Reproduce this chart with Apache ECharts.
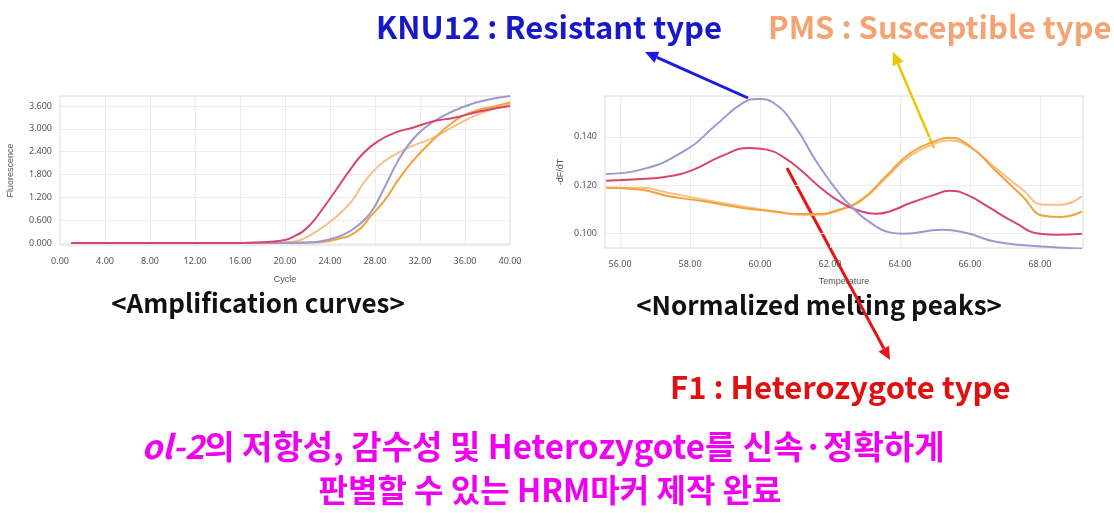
<!DOCTYPE html>
<html>
<head>
<meta charset="utf-8">
<script src="https://cdn.jsdelivr.net/npm/echarts@6/dist/echarts.min.js"></script>
<style>
  html, body { margin: 0; padding: 0; background: #fff; }
  #chart { width: 1114px; height: 513px; }
</style>
</head>
<body>
<div id="chart"></div>
<script>
// amplification curves: [cycle, fluorescence]
const ampRed = [[1, 0], [16, 0], [17.8, 0.02], [19.6, 0.06], [20.85, 0.18], [22.1, 0.44], [23.3, 0.88], [24.55, 1.40], [25.8, 1.93], [27.0, 2.37], [28.3, 2.68], [29.8, 2.90], [31.35, 3.03], [33.2, 3.20], [35.05, 3.29], [37.5, 3.47], [40, 3.60]];
const ampLightOrange = [[1, 0], [17, 0], [19, 0.01], [20.85, 0.04], [22.1, 0.18], [23.9, 0.53], [25.8, 1.05], [27.0, 1.58], [28.3, 2.02], [29.8, 2.33], [31.35, 2.55], [33.2, 2.77], [35.05, 3.07], [37.5, 3.42], [40, 3.64]];
const ampPurple = [[1, 0], [20, 0], [22.1, 0.01], [23.9, 0.09], [25.2, 0.22], [26.4, 0.44], [27.6, 0.79], [28.9, 1.49], [30.1, 2.19], [31.35, 2.72], [32.6, 3.07], [34.1, 3.34], [35.7, 3.56], [37.5, 3.73], [40, 3.86]];
const ampOrange = [[1, 0], [20, 0], [22.1, 0.01], [24.6, 0.10], [26.4, 0.31], [27.6, 0.70], [28.9, 1.14], [30.1, 1.67], [31.35, 2.15], [33.2, 2.72], [35.05, 3.20], [36.9, 3.47], [38.8, 3.60], [40, 3.69]];
const ampYTicks = [0, 0.6, 1.2, 1.8, 2.4, 3.0, 3.6];
const ampXTicks = [0, 4, 8, 12, 16, 20, 24, 28, 32, 36, 40];

// melting peaks: [temperature, -dF/dT]
const meltPurple = [[55.6, 0.1246], [56.6, 0.1264], [57.9, 0.1347], [58.7, 0.1444], [59.5, 0.1540], [59.95, 0.1558], [60.4, 0.1540], [61.0, 0.1444], [61.6, 0.1300], [62.25, 0.1167], [62.7, 0.1097], [63.1, 0.1049], [63.7, 0.1003], [64.1, 0.0997], [65.2, 0.1014], [65.9, 0.1000], [66.7, 0.0965], [67.6, 0.0949], [68.3, 0.0942], [69.2, 0.0935]];
const meltRed = [[55.6, 0.1218], [56.6, 0.1225], [57.4, 0.1236], [58.1, 0.1264], [58.9, 0.1320], [59.7, 0.1354], [60.2, 0.1347], [60.7, 0.1313], [61.2, 0.1257], [61.8, 0.1180], [62.35, 0.1125], [62.9, 0.1090], [63.3, 0.1080], [63.7, 0.1090], [64.3, 0.1125], [65.0, 0.1160], [65.4, 0.1176], [65.9, 0.1160], [66.5, 0.1111], [67.3, 0.1042], [68.0, 0.0997], [68.5, 0.0993], [69.2, 0.0997]];
const meltOrange = [[55.6, 0.1188], [56.6, 0.1180], [57.4, 0.1153], [58.4, 0.1132], [59.5, 0.1104], [60.4, 0.1090], [61.2, 0.1079], [61.6, 0.1079], [62.25, 0.1097], [62.9, 0.1139], [63.6, 0.1236], [64.3, 0.1333], [65.0, 0.1382], [65.4, 0.1396], [66.0, 0.1361], [66.7, 0.1264], [67.5, 0.1153], [68.1, 0.1072], [68.6, 0.1067], [69.2, 0.1090]];
const meltLightOrange = [[55.6, 0.1188], [56.6, 0.1188], [57.4, 0.1167], [58.4, 0.1139], [59.5, 0.1111], [60.4, 0.1090], [61.2, 0.1076], [61.6, 0.1076], [62.25, 0.1094], [62.9, 0.1136], [63.6, 0.1229], [64.3, 0.1322], [65.0, 0.1372], [65.4, 0.1385], [66.0, 0.1357], [66.7, 0.1275], [67.5, 0.1181], [68.1, 0.1118], [68.6, 0.1118], [69.2, 0.1153]];
const meltYTicks = [0.100, 0.120, 0.140];
const meltXTicks = [56, 58, 60, 62, 64, 66, 68];

const PURPLE = '#9d98d4';
const RED = '#d7456c';
const ORANGE = '#f4a23c';
const LIGHT_ORANGE = '#f8bf86';

function line (data, color, axis) {
  return {
    type: 'line',
    xAxisIndex: axis,
    yAxisIndex: axis,
    data: data,
    smooth: 0.5,
    symbol: 'none',
    animation: false,
    lineStyle: { color: color, width: 2 }
  };
}

function arrow (x1, y1, x2, y2, color, w) {
  const ang = Math.atan2(y2 - y1, x2 - x1);
  const len = 13, half = 6;
  const bx = x2 - len * Math.cos(ang), by = y2 - len * Math.sin(ang);
  const px = -Math.sin(ang) * half, py = Math.cos(ang) * half;
  return [{
    type: 'line',
    shape: { x1: x1, y1: y1, x2: bx, y2: by },
    style: { stroke: color, lineWidth: w }
  }, {
    type: 'polygon',
    shape: { points: [[x2, y2], [bx + px, by + py], [bx - px, by - py]] },
    style: { fill: color }
  }];
}

function text (x, y, str, color, size, align) {
  return {
    type: 'text',
    x: x,
    y: y,
    style: {
      text: str,
      fill: color,
      font: 'bold ' + size + 'px "Noto Sans CJK KR", "Noto Sans", sans-serif',
      align: align || 'left',
      verticalAlign: 'middle'
    }
  };
}

const axisLabelStyle = { color: '#555', fontSize: 9, fontFamily: 'Noto Sans' };
const splitStyle = { show: true, lineStyle: { color: '#ededed' } };

const chart = echarts.init(document.getElementById('chart'));
const option = {
  backgroundColor: '#fff',
  grid: [
    { left: 60, top: 96, width: 450, height: 149, show: true, borderColor: '#d8d8d8', borderWidth: 1 },
    { left: 605, top: 96, width: 478, height: 152, show: true, borderColor: '#d8d8d8', borderWidth: 1 }
  ],
  xAxis: [{
    gridIndex: 0,
    type: 'value',
    min: 0,
    max: 40,
    name: 'Cycle',
    nameLocation: 'middle',
    nameGap: 30,
    nameTextStyle: { color: '#555', fontSize: 9 },
    axisLine: { show: false },
    axisTick: { show: false, customValues: ampXTicks },
    axisLabel: Object.assign({ customValues: ampXTicks, margin: 12, formatter: v => v.toFixed(2) }, axisLabelStyle),
    splitLine: splitStyle
  }, {
    gridIndex: 1,
    type: 'value',
    min: 55.57,
    max: 69.23,
    name: 'Temperature',
    nameLocation: 'middle',
    nameGap: 29,
    nameTextStyle: { color: '#555', fontSize: 9 },
    axisLine: { show: false },
    axisTick: { show: false, customValues: meltXTicks },
    axisLabel: Object.assign({ customValues: meltXTicks, margin: 12, formatter: v => v.toFixed(2) }, axisLabelStyle),
    splitLine: splitStyle
  }],
  yAxis: [{
    gridIndex: 0,
    type: 'value',
    min: -0.053,
    max: 3.863,
    name: 'Fluorescence',
    nameLocation: 'middle',
    nameGap: 45,
    nameTextStyle: { color: '#555', fontSize: 9 },
    axisLine: { show: false },
    axisTick: { show: false, customValues: ampYTicks },
    axisLabel: Object.assign({ customValues: ampYTicks, margin: 8, formatter: v => v.toFixed(3) }, axisLabelStyle),
    splitLine: splitStyle
  }, {
    gridIndex: 1,
    type: 'value',
    min: 0.0938,
    max: 0.157,
    name: '-dF/dT',
    nameLocation: 'middle',
    nameGap: 40,
    nameTextStyle: { color: '#555', fontSize: 9 },
    axisLine: { show: false },
    axisTick: { show: false, customValues: meltYTicks },
    axisLabel: Object.assign({ customValues: meltYTicks, margin: 8, formatter: v => v.toFixed(3) }, axisLabelStyle),
    splitLine: splitStyle
  }],
  series: [
    line(ampLightOrange, LIGHT_ORANGE, 0),
    line(ampOrange, ORANGE, 0),
    line(ampPurple, PURPLE, 0),
    line(ampRed, RED, 0),
    line(meltLightOrange, LIGHT_ORANGE, 1),
    line(meltOrange, ORANGE, 1),
    line(meltRed, RED, 1),
    line(meltPurple, PURPLE, 1)
  ],
  graphic: [
    text(376, 27, 'KNU12 : Resistant type', '#1818c8', 31),
    text(768, 27, 'PMS : Susceptible type', '#f3a472', 31),
    text(258, 303, '<Amplification curves>', '#111', 26, 'center'),
    text(819, 305, '<Normalized melting peaks>', '#111', 26, 'center'),
    text(670, 387, 'F1 : Heterozygote type', '#e01010', 31),
    {
      type: 'text',
      x: 543,
      y: 446,
      style: {
        text: '{i|ol-2}의 저항성, 감수성 및 Heterozygote를 신속·정확하게',
        fill: '#f000f0',
        font: 'bold 33px "Noto Sans CJK KR", sans-serif',
        align: 'center',
        verticalAlign: 'middle',
        rich: { i: { fontStyle: 'italic', fontWeight: 'bold', fontSize: 33, fill: '#f000f0', fontFamily: 'Noto Sans CJK KR' } }
      }
    },
    text(550, 490, '판별할 수 있는 HRM마커 제작 완료', '#f000f0', 32, 'center'),
    ...arrow(748, 98, 645, 52, '#1a1ae0', 3),
    ...arrow(934, 148, 893, 52, '#f2c200', 2.5),
    ...arrow(787, 168, 890, 360, '#e81414', 3)
  ]
};
chart.setOption(option);
window.addEventListener('resize', () => chart.resize());
</script>
</body>
</html>
